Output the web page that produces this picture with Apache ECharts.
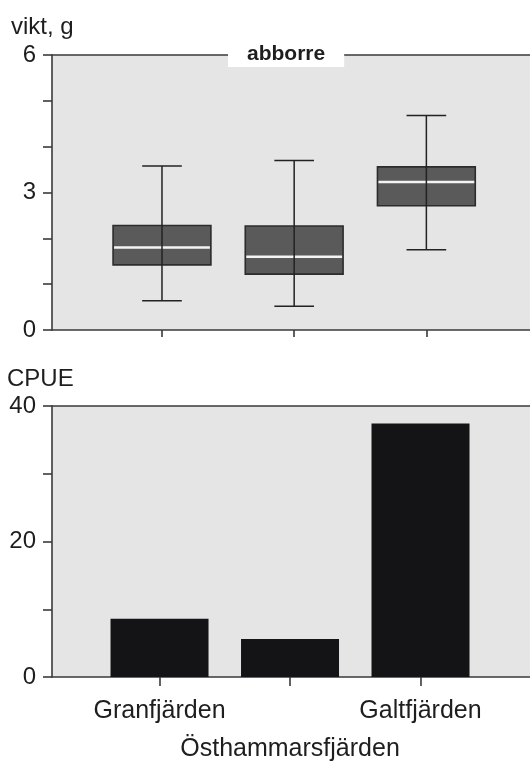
<!DOCTYPE html>
<html>
<head>
<meta charset="utf-8">
<style>
  html, body { margin: 0; padding: 0; background: #ffffff; }
  #chart { width: 530px; height: 764px; }
</style>
<script src="https://cdn.jsdelivr.net/npm/echarts@6/dist/echarts.min.js"></script>
</head>
<body>
<div id="chart"></div>
<script>
// ---- data ----
const categories = ['Granfjärden', 'Östhammarsfjärden', 'Galtfjärden'];
const categoryPositions = [1, 2, 3];
const weightMin    = [0.64, 0.52, 1.75];
const weightQ1     = [1.42, 1.22, 2.71];
const weightMedian = [1.80, 1.60, 3.23];
const weightQ3     = [2.28, 2.27, 3.56];
const weightMax    = [3.58, 3.70, 4.68];
const cpue         = [8.6, 5.6, 37.4];
const weightTicks  = [0, 3, 6];
const cpueTicks    = [0, 20, 40];

// ---- build ----
const boxData = categoryPositions.map((x, i) =>
  [x, weightMin[i], weightQ1[i], weightMedian[i], weightQ3[i], weightMax[i]]);
const barData = categoryPositions.map((x, i) => [x, cpue[i]]);
const outerPositions = [categoryPositions[0], categoryPositions[2]];
const middlePositions = [categoryPositions[1]];

const FONT = 'Liberation Sans, Arial, sans-serif';
const AXIS_COLOR = '#3a3a3a';
const TEXT_COLOR = '#1e1e1e';
const PLOT_BG = '#e5e5e5';

function renderBox(params, api) {
  const x = api.value(0);
  const pMin = api.coord([x, api.value(1)]);
  const pQ1 = api.coord([x, api.value(2)]);
  const pMed = api.coord([x, api.value(3)]);
  const pQ3 = api.coord([x, api.value(4)]);
  const pMax = api.coord([x, api.value(5)]);
  const unit = api.size([1, 0])[0];
  const bw = unit * 0.74;
  const cw = unit * 0.30;
  const cx = pMed[0];
  return {
    type: 'group',
    children: [
      { type: 'rect',
        shape: { x: cx - bw / 2, y: pQ3[1], width: bw, height: pQ1[1] - pQ3[1] },
        style: { fill: '#5a5a5a', stroke: '#2c2c2c', lineWidth: 1.6 } },
      { type: 'line',
        shape: { x1: cx - bw / 2 + 1, y1: pMed[1], x2: cx + bw / 2 - 1, y2: pMed[1] },
        style: { stroke: '#f4f4f4', lineWidth: 2.5 } },
      { type: 'line',
        shape: { x1: cx, y1: pMax[1], x2: cx, y2: pMin[1] },
        style: { stroke: '#222222', lineWidth: 1.5 } },
      { type: 'line',
        shape: { x1: cx - cw / 2, y1: pMax[1], x2: cx + cw / 2, y2: pMax[1] },
        style: { stroke: '#222222', lineWidth: 1.5 } },
      { type: 'line',
        shape: { x1: cx - cw / 2, y1: pMin[1], x2: cx + cw / 2, y2: pMin[1] },
        style: { stroke: '#222222', lineWidth: 1.5 } }
    ]
  };
}

const axisLineStyle = { color: AXIS_COLOR, width: 1.6 };
const yLabel = { fontFamily: FONT, fontSize: 24, color: TEXT_COLOR, margin: 16 };
const xLabelStyle = { fontFamily: FONT, fontSize: 25, color: TEXT_COLOR };
const catName = function (v) { return categories[Math.round(v) - 1]; };

const option = {
  animation: false,
  backgroundColor: '#ffffff',
  title: [
    { text: 'vikt, g', left: 11, top: 15, padding: 0,
      textStyle: { fontFamily: FONT, fontSize: 24, fontWeight: 'normal', color: TEXT_COLOR } },
    { text: 'abborre', left: 228, top: 42, padding: [2, 19, 2, 19], backgroundColor: '#ffffff',
      textStyle: { fontFamily: FONT, fontSize: 21, fontWeight: 'bold', color: TEXT_COLOR } },
    { text: 'CPUE', left: 7, top: 367, padding: 0,
      textStyle: { fontFamily: FONT, fontSize: 24, fontWeight: 'normal', color: TEXT_COLOR } }
  ],
  grid: [
    { left: 52, top: 55, right: 0, height: 275, show: true, backgroundColor: PLOT_BG,
      borderWidth: 0, containLabel: false, outerBoundsMode: 'none' },
    { left: 52, top: 406, right: 0, height: 271, show: true, backgroundColor: PLOT_BG,
      borderWidth: 0, containLabel: false, outerBoundsMode: 'none' }
  ],
  xAxis: [
    { type: 'value', gridIndex: 0, min: 0.168, max: 3.784, position: 'bottom',
      axisLine: { show: true, lineStyle: axisLineStyle },
      axisTick: { show: true, customValues: categoryPositions, length: 7, lineStyle: axisLineStyle },
      axisLabel: { show: false }, splitLine: { show: false } },
    { type: 'value', gridIndex: 0, min: 0.168, max: 3.784, position: 'top',
      axisLine: { show: true, onZero: false, lineStyle: axisLineStyle },
      axisTick: { show: false }, axisLabel: { show: false }, splitLine: { show: false } },
    { type: 'value', gridIndex: 1, min: 0.176, max: 3.839, position: 'bottom',
      axisLine: { show: true, lineStyle: axisLineStyle },
      axisTick: { show: true, customValues: categoryPositions, length: 9, lineStyle: axisLineStyle },
      axisLabel: Object.assign({ show: true, customValues: outerPositions, margin: 22,
        hideOverlap: false, formatter: catName }, xLabelStyle),
      splitLine: { show: false } },
    { type: 'value', gridIndex: 1, min: 0.176, max: 3.839, position: 'top',
      axisLine: { show: true, onZero: false, lineStyle: axisLineStyle },
      axisTick: { show: false }, axisLabel: { show: false }, splitLine: { show: false } },
    { type: 'value', gridIndex: 1, min: 0.176, max: 3.839, position: 'bottom', offset: 0,
      axisLine: { show: false }, axisTick: { show: false },
      axisLabel: Object.assign({ show: true, customValues: middlePositions, margin: 60,
        hideOverlap: false, formatter: catName }, xLabelStyle),
      splitLine: { show: false } }
  ],
  yAxis: [
    { type: 'value', gridIndex: 0, min: weightTicks[0], max: weightTicks[2], interval: weightTicks[1] - weightTicks[0],
      axisLine: { show: true, lineStyle: axisLineStyle },
      axisTick: { show: true, length: 9, lineStyle: axisLineStyle },
      minorTick: { show: true, splitNumber: 3, length: 9, lineStyle: axisLineStyle },
      axisLabel: yLabel, splitLine: { show: false } },
    { type: 'value', gridIndex: 1, min: cpueTicks[0], max: cpueTicks[2], interval: cpueTicks[1] - cpueTicks[0],
      axisLine: { show: true, lineStyle: axisLineStyle },
      axisTick: { show: true, length: 9, lineStyle: axisLineStyle },
      minorTick: { show: true, splitNumber: 2, length: 9, lineStyle: axisLineStyle },
      axisLabel: yLabel, splitLine: { show: false } }
  ],
  series: [
    { type: 'custom', name: 'vikt', xAxisIndex: 0, yAxisIndex: 0,
      renderItem: renderBox, encode: { x: 0, y: [1, 2, 3, 4, 5] }, data: boxData, z: 3 },
    { type: 'bar', name: 'CPUE', xAxisIndex: 2, yAxisIndex: 1,
      data: barData, barWidth: 98, itemStyle: { color: '#141416' }, z: 3 }
  ]
};

const chart = echarts.init(document.getElementById('chart'), null, { renderer: 'canvas' });
chart.setOption(option);
</script>
</body>
</html>
